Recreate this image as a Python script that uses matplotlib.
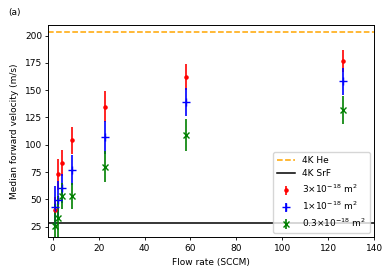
import matplotlib
matplotlib.use("Agg")
import matplotlib.pyplot as plt

# flow rates (SCCM)
flow = [1.0, 2.4, 4.2, 8.4, 23.0, 58.0, 126.6]

# median forward velocity (m/s) for each cross section
v_3 = [40, 73, 83, 104, 135, 162, 177]
err_3 = [12, 14, 12, 12, 14, 12, 10]
v_1 = [43, 49, 60, 77, 107, 139, 158]
err_1 = [19, 18, 13, 14, 15, 13, 12]
v_03 = [26, 33, 53, 53, 80, 109, 132]
err_03 = [20, 20, 12, 12, 14, 15, 13]

he_4k = 203.5
srf_4k = 28.5

plt.rcParams["font.size"] = 6.5

fig = plt.figure(figsize=(3.91, 2.74), dpi=100)
ax = fig.add_axes([0.1235, 0.134, 0.8335, 0.774])

ax.axhline(he_4k, color="orange", linestyle="--", linewidth=1.1, label="4K He")
ax.axhline(srf_4k, color="black", linestyle="-", linewidth=1.1, label="4K SrF")
ax.errorbar(flow, v_3, yerr=err_3, fmt=".", color="red", markersize=4.5,
            elinewidth=1.2, label=r"3$\times$10$^{-18}$ m$^2$")
ax.errorbar(flow, v_1, yerr=err_1, fmt="+", color="blue", markersize=5.5,
            elinewidth=1.2, label=r"1$\times$10$^{-18}$ m$^2$")
ax.errorbar(flow, v_03, yerr=err_03, fmt="x", color="green", markersize=4.5,
            elinewidth=1.2, label=r"0.3$\times$10$^{-18}$ m$^2$")

ax.set_xlim(-1.9, 140)
ax.set_ylim(15.3, 209.5)
ax.set_yticks([25, 50, 75, 100, 125, 150, 175, 200])
ax.set_xlabel("Flow rate (SCCM)")
ax.set_ylabel("Median forward velocity (m/s)")
ax.tick_params(width=0.6, length=2.5, pad=2)
for s in ax.spines.values():
    s.set_linewidth(0.7)
ax.legend(loc="lower right")

fig.text(0.02, 0.945, "(a)")

fig.savefig("out.png", dpi=100)
